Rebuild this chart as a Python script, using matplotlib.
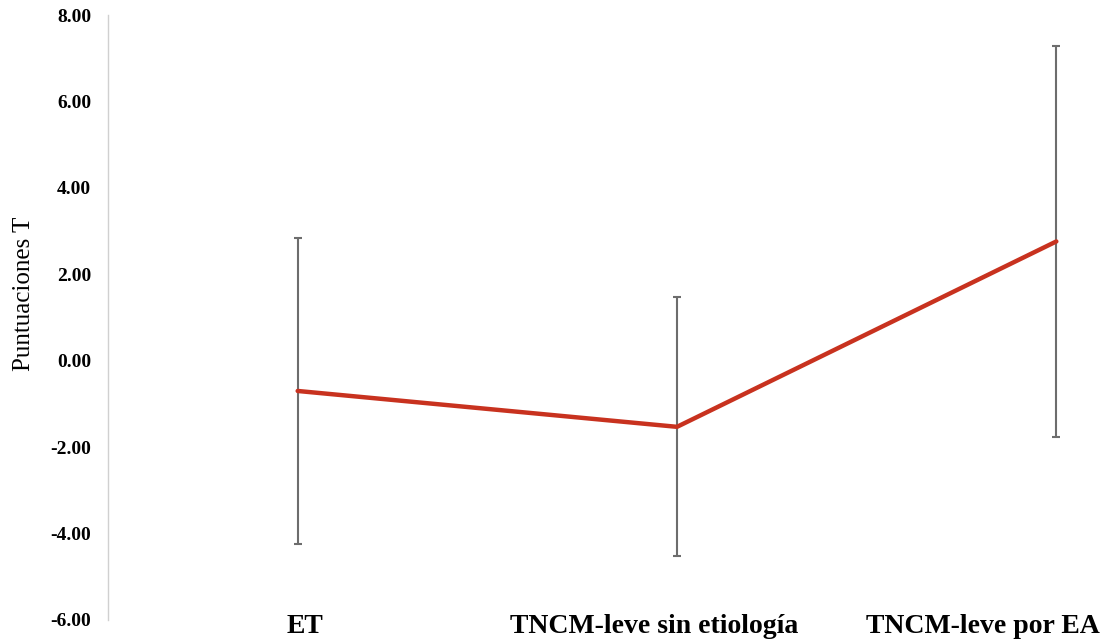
import matplotlib.pyplot as plt
from matplotlib.ticker import FormatStrFormatter
from matplotlib.transforms import ScaledTranslation

categories = ["ET", "TNCM-leve sin etiología", "TNCM-leve por EA"]
means = [-0.70, -1.53, 2.76]
sds = [3.53, 3.00, 4.53]
yticks = [-6, -4, -2, 0, 2, 4, 6, 8]

plt.rcParams['font.family'] = ['Liberation Serif', 'DejaVu Serif']

fig = plt.figure(figsize=(11.12, 6.43), dpi=100)
# plot area runs past the right edge of the figure, as in the original crop
ax = fig.add_axes([108 / 1112, 23 / 643, 1138 / 1112, 605 / 643])

x = list(range(len(categories)))
ax.errorbar(x, means, yerr=sds, fmt='none', ecolor='#6d6d6d', elinewidth=1.5,
            capsize=3, capthick=1.5, zorder=1)
ax.plot(x, means, color='#c8321f', linewidth=3.2, solid_capstyle='round', zorder=2)

ax.set_xlim(-0.5, 2.5)
ax.set_ylim(-6, 8)
ax.set_yticks(yticks)
ax.yaxis.set_major_formatter(FormatStrFormatter('%.2f'))
ax.set_xticks(x)
ax.set_xticklabels(categories, fontsize=20, fontweight='bold')
for lab in ax.get_yticklabels():
    lab.set_fontweight('bold')
    lab.set_fontsize(14)
ax.tick_params(axis='both', length=0)
ax.tick_params(axis='y', pad=12)
ax.tick_params(axis='x', pad=-4)

# category labels sit a little off their points in the original
shifts = [7, -23, -73]
for lab, dx in zip(ax.get_xticklabels(), shifts):
    lab.set_transform(lab.get_transform() + ScaledTranslation(dx / 100, 0, fig.dpi_scale_trans))

for side in ['top', 'right', 'bottom']:
    ax.spines[side].set_visible(False)
ax.spines['left'].set_color('#d0d0d0')
ax.spines['left'].set_linewidth(1.0)

ax.set_ylabel("Puntuaciones T", fontsize=18)
ax.yaxis.set_label_coords(-0.064, 0.539)

fig.savefig("out.png", dpi=100)
